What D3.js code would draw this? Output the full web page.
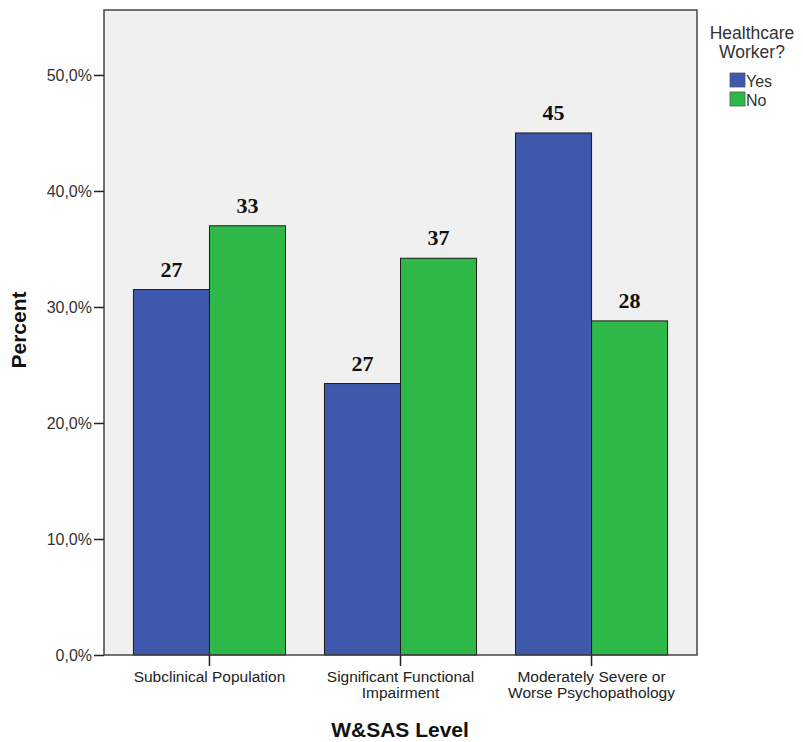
<!DOCTYPE html>
<html><head><meta charset="utf-8">
<script src="https://cdn.jsdelivr.net/npm/d3@7"></script>
<style>body{margin:0;background:#fff}svg{display:block}</style>
</head><body>
<svg id="chart" width="803" height="742"></svg>
<script>
const categories = [["Subclinical Population"], ["Significant Functional", "Impairment"], ["Moderately Severe or", "Worse Psychopathology"]];
const categoryKeys = ["Subclinical Population", "Significant Functional Impairment", "Moderately Severe or Worse Psychopathology"];
const seriesNames = ["Yes", "No"];
const yesPercent = [31.5, 23.4, 45.0];
const noPercent = [37.0, 34.2, 28.8];
const yesCounts = [27, 27, 45];
const noCounts = [33, 37, 28];
const yTicks = [0, 10, 20, 30, 40, 50];
const colors = {Yes: "#3E58AC", No: "#2EB848"};

(function () {
const svg = d3.select("#chart");
const pLeft = 104, pRight = 697, pTop = 10, pBottom = 655;
const sans = "Liberation Sans, Arial, sans-serif";

const x = d3.scaleBand().domain(categoryKeys).range([pLeft, pRight]).paddingInner(0.204).paddingOuter(0.154);
const xs = d3.scaleBand().domain(seriesNames).range([0, x.bandwidth()]);
const y = d3.scaleLinear().domain([0, 55.6]).range([pBottom, pTop]);

svg.append("rect").attr("x", pLeft).attr("y", pTop).attr("width", pRight - pLeft).attr("height", pBottom - pTop)
  .attr("fill", "#f0f0f0").attr("stroke", "none");

const data = categoryKeys.map((c, i) => ({c, vals: [
  {s: "Yes", v: yesPercent[i], n: yesCounts[i]},
  {s: "No", v: noPercent[i], n: noCounts[i]}]}));

const g = svg.append("g");
data.forEach(d => {
  d.vals.forEach(b => {
    g.append("rect")
      .attr("x", x(d.c) + xs(b.s)).attr("y", y(b.v))
      .attr("width", xs.bandwidth()).attr("height", y(0) - y(b.v))
      .attr("fill", colors[b.s]).attr("stroke", "#1a1a1a").attr("stroke-width", 1);
    g.append("text")
      .attr("x", x(d.c) + xs(b.s) + xs.bandwidth() / 2).attr("y", y(b.v) - 13)
      .attr("text-anchor", "middle").attr("font-family", "Liberation Serif, Times New Roman, serif")
      .attr("font-weight", "bold").attr("font-size", 22).attr("fill", "#111").text(b.n);
  });
});

svg.append("rect").attr("x", pLeft).attr("y", pTop).attr("width", pRight - pLeft).attr("height", pBottom - pTop)
  .attr("fill", "none").attr("stroke", "#444").attr("stroke-width", 1.5);

const yAxis = d3.axisLeft(y).tickValues(yTicks).tickSize(10).tickPadding(2)
  .tickFormat(d => d.toFixed(1).replace(".", ",") + "%");
const ya = svg.append("g").attr("transform", `translate(${pLeft},0)`).call(yAxis);
ya.select(".domain").remove();
ya.selectAll(".tick line").attr("stroke", "#222").attr("stroke-width", 1.5);
ya.selectAll(".tick text").attr("font-family", sans).attr("font-size", 16).attr("fill", "#333");

const xAxis = d3.axisBottom(x).tickSize(11).tickFormat("");
const xa = svg.append("g").attr("transform", `translate(0,${pBottom})`).call(xAxis);
xa.select(".domain").remove();
xa.selectAll(".tick line").attr("stroke", "#222").attr("stroke-width", 1.5);
categoryKeys.forEach((c, i) => {
  const cx = x(c) + x.bandwidth() / 2;
  const t = svg.append("text").attr("x", cx).attr("y", 682)
    .attr("text-anchor", "middle").attr("font-family", sans)
    .attr("font-size", 15.5).attr("fill", "#222");
  categories[i].forEach((line, j) => {
    t.append("tspan").attr("x", cx).attr("dy", j === 0 ? 0 : 15.5).text(line);
  });
});

svg.append("text").attr("x", 400).attr("y", 737).attr("text-anchor", "middle")
  .attr("font-family", sans).attr("font-weight", "bold")
  .attr("font-size", 21).attr("fill", "#111").text("W&SAS Level");
svg.append("text").attr("transform", "translate(26,330) rotate(-90)").attr("text-anchor", "middle")
  .attr("font-family", sans).attr("font-weight", "bold")
  .attr("font-size", 21).attr("fill", "#111").text("Percent");

const lg = svg.append("g");
lg.append("text").attr("x", 752).attr("y", 39).attr("text-anchor", "middle")
  .attr("font-family", sans).attr("font-size", 17.5).attr("fill", "#333").text("Healthcare");
lg.append("text").attr("x", 752).attr("y", 57.5).attr("text-anchor", "middle")
  .attr("font-family", sans).attr("font-size", 17.5).attr("fill", "#333").text("Worker?");
seriesNames.forEach((s, i) => {
  lg.append("rect").attr("x", 730).attr("y", 73 + i * 19).attr("width", 15).attr("height", 14)
    .attr("fill", colors[s]).attr("stroke", "#555").attr("stroke-width", 0.8);
  lg.append("text").attr("x", 746).attr("y", 87 + i * 18.5).attr("font-family", sans)
    .attr("font-size", 16).attr("fill", "#333").text(s);
});
})();
</script>
</body></html>
